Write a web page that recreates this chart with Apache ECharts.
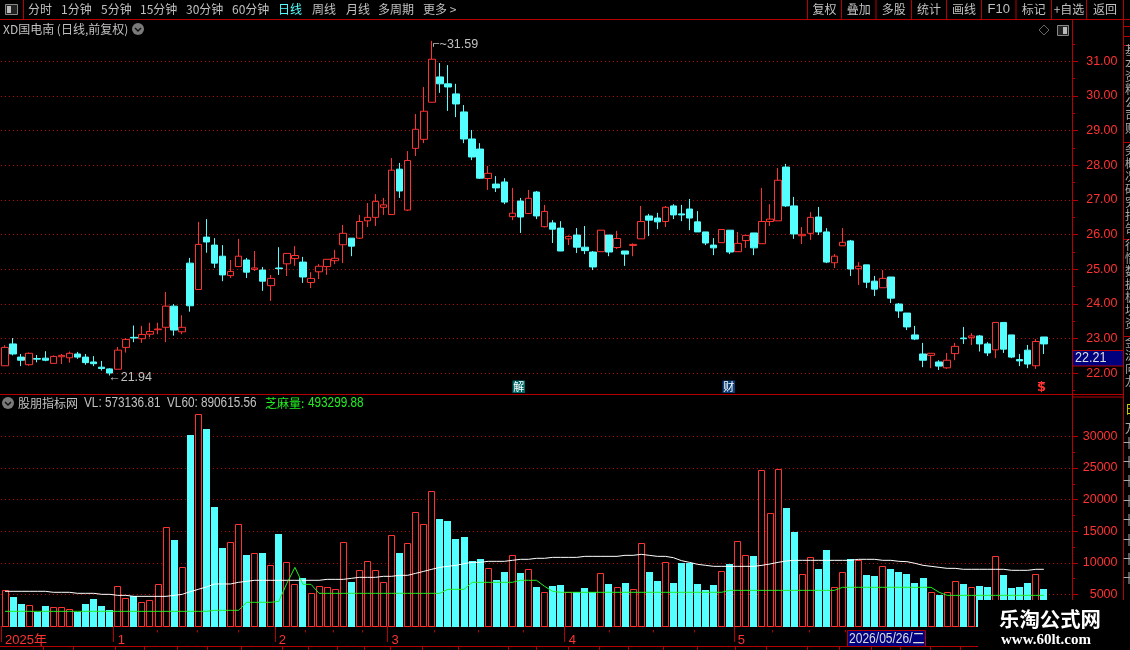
<!DOCTYPE html>
<html><head><meta charset="utf-8">
<style>html,body{margin:0;padding:0;background:#000}#c{width:1130px;height:650px}</style>
<script src="https://cdn.jsdelivr.net/npm/echarts@6/dist/echarts.min.js"></script>
</head><body><div id="c"></div>
<script>
const opens=[22.22,22.85,22.47,22.25,22.43,22.44,22.29,22.48,22.45,22.56,22.47,22.33,22.18,22.13,22.12,22.75,23.04,23.00,23.13,23.26,23.33,23.94,23.20,25.18,24.42,25.93,25.70,25.38,24.82,25.08,25.27,25.00,24.98,24.53,25.04,25.16,25.31,25.21,24.62,24.93,25.08,25.25,25.71,25.90,25.90,26.40,26.50,26.79,26.58,27.89,26.71,28.49,28.75,29.82,30.55,30.35,30.06,29.54,28.76,28.47,27.62,27.46,27.52,26.52,26.97,26.61,27.23,26.23,26.34,26.19,25.88,25.99,25.64,25.50,25.51,25.99,25.63,25.53,25.69,25.88,26.54,26.48,26.38,26.83,26.60,26.74,26.37,26.08,25.70,25.77,26.13,25.51,25.83,26.05,25.74,26.38,26.40,27.95,26.83,25.97,26.04,26.51,26.08,25.19,25.68,25.82,25.02,25.13,24.66,24.47,24.78,24.00,23.74,23.11,22.56,22.52,22.33,22.16,22.57,23.02,23.03,23.08,22.85,22.68,23.47,23.11,22.40,22.67,22.22,23.05];
const closes=[22.75,22.56,22.38,22.58,22.41,22.38,22.49,22.52,22.58,22.47,22.31,22.28,22.14,22.01,22.67,22.98,23.02,23.12,23.21,23.28,23.94,23.25,23.33,23.95,25.72,25.79,25.18,24.84,24.94,25.38,24.92,25.04,24.66,24.74,25.02,25.46,25.40,24.78,24.74,25.09,25.29,25.32,26.04,25.67,26.38,26.50,26.96,26.86,27.86,27.26,28.14,29.04,29.56,31.06,30.35,30.26,29.77,28.76,28.24,27.63,27.77,27.35,26.94,26.62,26.51,27.05,26.54,26.67,26.16,25.53,25.95,25.64,25.54,25.07,26.13,25.50,25.89,25.44,25.72,26.38,26.42,26.37,26.79,26.57,26.57,26.48,26.08,25.76,25.62,26.15,25.50,25.75,25.98,25.62,26.38,26.45,27.57,26.83,26.02,26.01,26.50,26.08,25.21,25.38,25.78,25.01,25.09,24.63,24.43,24.74,24.17,23.80,23.34,22.99,22.38,22.58,22.21,22.38,22.78,23.00,23.08,22.85,22.59,23.47,22.70,22.47,22.36,22.27,22.92,22.85];
const lows=[22.22,22.52,22.21,22.22,22.32,22.35,22.29,22.27,22.31,22.42,22.25,22.21,22.08,21.94,22.12,22.60,22.90,22.88,23.04,23.13,22.90,23.09,23.13,23.78,24.42,25.48,25.04,24.66,24.75,25.08,24.75,24.95,24.38,24.09,24.84,24.81,25.10,24.61,24.46,24.72,24.84,25.15,25.18,25.38,25.88,26.22,26.25,26.57,26.58,27.06,26.68,28.27,28.64,29.82,30.09,29.57,29.39,28.64,28.15,27.61,27.29,27.23,26.88,26.42,26.05,26.61,26.45,26.21,25.76,25.53,25.70,25.47,25.44,24.98,25.51,25.38,25.59,25.10,25.38,25.88,25.96,26.16,26.22,26.45,26.39,26.13,26.08,25.70,25.41,25.77,25.44,25.51,25.62,25.41,25.74,26.25,26.40,26.80,25.88,25.73,25.85,25.99,25.18,25.04,25.68,24.81,24.55,24.46,24.23,24.47,24.03,23.60,23.25,22.96,22.18,22.15,22.10,22.13,22.38,22.85,22.82,22.63,22.50,22.44,22.59,22.44,22.21,22.15,22.13,22.56];
const highs=[22.81,23.02,22.56,22.60,22.53,22.64,22.52,22.56,22.63,22.62,22.56,22.50,22.36,22.15,22.76,23.02,23.38,23.37,23.46,23.46,24.35,24.00,23.68,25.33,26.37,26.45,25.90,25.70,25.27,25.88,25.33,25.53,25.07,24.84,25.64,25.46,25.67,25.36,24.92,25.15,25.29,25.56,26.28,25.90,26.57,26.91,27.17,27.06,28.21,28.07,28.41,29.48,30.26,31.59,30.95,30.89,30.35,29.74,29.02,28.64,27.98,27.69,27.63,27.35,27.06,27.29,27.26,26.86,26.42,26.39,25.98,26.19,26.25,25.53,26.13,25.99,26.11,25.53,25.75,26.83,26.60,26.63,26.83,26.88,26.86,27.03,26.68,26.08,25.90,26.15,26.13,26.08,25.98,26.05,27.35,26.88,27.92,28.04,27.09,26.22,26.65,26.80,26.19,25.44,26.19,25.85,25.21,25.13,24.81,24.98,24.78,24.03,23.74,23.37,22.88,22.58,22.38,22.59,22.88,23.34,23.16,23.11,22.90,23.47,23.47,23.11,22.56,22.82,22.99,23.05];
const volumes=[5640,4590,3480,3270,2270,3160,2950,2950,2640,2270,3480,4270,3160,2530,6280,4380,4690,3750,4060,6590,15610,13610,9280,30220,33490,31170,18830,12340,13240,16090,11230,11500,11550,9600,14560,10070,6590,7600,5170,6280,6120,5800,13240,6960,8810,10230,8810,6910,14350,11550,13080,17980,16090,21310,16930,16610,13770,14080,10280,10600,9120,7280,8540,11180,8390,8970,6170,5330,6330,6490,5330,5330,6010,5330,8330,6650,6120,6800,5800,13080,8540,7120,10070,6800,9970,9970,6650,5700,6490,8650,9810,13400,11180,11080,24630,17830,24790,18670,14870,8180,10860,9020,12030,6120,8490,10550,10390,8070,7910,9440,9020,8540,8230,6800,7600,5330,4910,5330,7070,6650,6120,6330,6170,11020,8070,6010,6170,6800,8180,5850];
const vl60=[5490,5490,5490,5490,5490,5490,5330,5330,5330,5170,5170,5170,5010,5010,4850,4850,4690,4690,4690,4690,4690,4850,5010,5430,5800,6170,6650,6650,6650,6910,7070,7230,7230,7230,7230,7230,7230,7230,7230,7230,7380,7380,7380,7540,7700,7700,7700,7860,7860,8020,8020,8330,8650,8970,9280,9440,9600,9860,10070,10070,10230,10230,10230,10390,10550,10550,10710,10710,10860,10860,10860,10860,11020,11020,11020,11020,11020,11180,11180,11340,11180,11020,11020,10810,10340,10070,9760,9600,9440,9440,9440,9440,9440,9440,9600,9810,10070,10280,10390,10390,10390,10390,10390,10390,10390,10390,10550,10550,10550,10390,10390,10230,10180,9920,9600,9440,9280,9120,9120,8970,8970,8970,8970,8970,8970,8810,8810,8810,8970,8970];
const zhimaliang=[2320,2320,2320,2320,2320,2320,2320,2320,2320,2320,2320,2320,2320,2320,2320,2320,2320,2320,2320,2320,2320,2320,2320,2320,2320,2320,2480,2480,2480,2480,3750,3750,3750,3750,3900,6750,9280,6590,6590,5170,5170,5170,5170,5170,5170,5170,5170,5170,5170,5170,5170,5170,5170,5170,5170,5800,5800,5800,6910,6910,6910,6910,6910,6910,7230,7230,7230,6280,5490,5330,5330,5330,5330,5330,5330,5330,5330,5330,5330,5330,5330,5330,5330,5330,5330,5330,5330,5330,5330,5330,5640,5640,5640,5640,5640,5640,5640,5640,5640,5640,5640,5640,5640,5640,6120,6120,6120,6120,6120,6120,6120,6120,6120,6120,6120,6120,5330,4850,4850,4850,4850,4850,4850,4850,4850,4850,4850,4850,4850,4850];
const monthStarts=[0,14,34,48,70,91];
const monthLabels=['2025年','1','2','3','4','5'];
const priceTicks=[22,23,24,25,26,27,28,29,30,31];
const priceMinorTicks=[21.5,22.5,23.5,24.5,25.5,26.5,27.5,28.5,29.5,30.5,31.5];
const volumeTicks=[5000,10000,15000,20000,25000,30000];
const volumeMinorTicks=[7500,12500,17500,22500,27500];
const periodTabs=['分时','1分钟','5分钟','15分钟','30分钟','60分钟','日线','周线','月线','多周期','更多 >'];
const periodTabX=[28,61,101,140,186,232,278,312,346,378,423];
const toolTabs=['复权','叠加','多股','统计','画线','F10','标记','+自选','返回'];
const toolSepX=[807.5,841.5,876,911.5,946.5,981.5,1016,1051.5,1086.5,1123.5];
const weekTopX=[157,197,238,305,333,362,434,478,523,609,653,694,772,809,845];
const weekBottomX=[43,73,115,144,177,207,241,282,308,337,364,390,422,458,508,536,568,599,628,663,697,735,766,807,839,871,900,930,960];
const sideLines=[26,36,45,142,239,336];
const sideChars='基本资料公司财务概况研究报告行情数据板块资金流向龙虎榜单主力持仓分红融资股东人数经营分析题材要点';

const RED='#ff3232',CYAN='#54ffff',LINE='#b40000',GRAY='#c0c0c0',DOT='#c00000';
const LAT='"Liberation Sans",sans-serif';
const CJK='"Noto Sans CJK SC",sans-serif';
const categories=opens.map((_,i)=>{const k=monthStarts.indexOf(i);return k>=0?monthLabels[k]:String(i);}).concat(['','','']);

const g=[];
const ln=(x1,y1,x2,y2,c)=>g.push({type:'line',silent:true,z:50,shape:{x1,y1,x2,y2},style:{stroke:c||LINE,lineWidth:1}});
const tx=(text,x,y,font,fill,align,z,sx)=>g.push({type:'text',silent:true,z:z||60,x,y,scaleX:sx||1,style:{text,font,fill:fill||GRAY,align:align||'left',verticalAlign:'middle'}});
const rc=(x,y,width,height,fill,stroke,z)=>g.push({type:'rect',silent:true,z:z||55,shape:{x,y,width,height},style:{fill,stroke:stroke||null,lineWidth:1}});

// toolbar
ln(0,19.5,1130,19.5);ln(23.5,0,23.5,19);
rc(5.5,4.5,12,10,'#222','#888');rc(7,6,4,7,'#bbb');
periodTabs.forEach((t,i)=>tx(t,periodTabX[i],9.5,'12px '+CJK,t==='日线'?'#54ffff':GRAY));
toolSepX.forEach(x=>ln(x,0,x,19));
toolTabs.forEach((t,i)=>tx(t,(toolSepX[i]+toolSepX[i+1])/2,9.5,t==='F10'?'13px '+LAT:'12px '+CJK,GRAY,'center'));
// title rows
tx('XD国电南 (日线,前复权)',3,29,'12px '+CJK);
const chev=(x,y)=>{g.push({type:'circle',silent:true,z:55,shape:{cx:x,cy:y,r:6},style:{fill:'#7a7a7a'}});
  g.push({type:'polyline',silent:true,z:56,shape:{points:[[x-3,y-1],[x,y+2],[x+3,y-1]]},style:{stroke:'#111',fill:null,lineWidth:1.5}});};
chev(138,29);chev(8,403);
g.push({type:'polygon',silent:true,z:55,shape:{points:[[1044,25],[1049,30],[1044,35],[1039,30]]},style:{stroke:'#666',fill:null,lineWidth:1}});
rc(1057.5,25.5,11,10,'#222','#888');rc(1063,27,4,7,'#bbb');
// frame
ln(1072.5,20,1072.5,600);ln(1123.5,20,1123.5,600);
ln(0,394.5,1124,394.5);ln(1072,397,1124,397);
rc(1072.5,350.5,51,15.5,'#00007f',LINE);
tx('22.21',1075,358.5,'14px '+LAT,'#dcdcdc','left',60,0.9);
// info-mine markers
rc(512.5,380.5,12.5,12.5,'#006a6a');tx('解',518.7,387,'11px '+CJK,'#fff','center');
rc(722.5,380.5,12.5,12.5,'#0a3c78');tx('财',728.7,387,'11px '+CJK,'#fff','center');
tx('$',1041.5,388,'bold 13px "DejaVu Sans"',RED,'center');ln(1038,382.5,1045,382.5,RED);
// indicator text
tx('股朋指标网',18,403,'12px '+CJK);
tx('VL: 573136.81',84,403,'14px '+LAT,GRAY,'left',60,0.84);
tx('VL60: 890615.56',167,403,'14px '+LAT,GRAY,'left',60,0.84);
tx('芝麻量:',265,403,'12px '+CJK,'#22ee22');
tx('493299.88',308,403,'14px '+LAT,'#22ee22','left',60,0.84);
// date band
ln(0,646.5,978,646.5);
weekTopX.forEach(x=>ln(x+.5,630,x+.5,632.5));
weekBottomX.forEach(x=>ln(x+.5,647,x+.5,650));
rc(847.5,630.5,78,16,'#00007f',LINE);
tx('2026/05/26/二',849,639,'14px '+LAT+',"Noto Sans CJK SC"','#dcdcdc','left',60,0.86);
// side strip
sideLines.forEach(y=>ln(1124,y+.5,1130,y+.5));
let sc=0;
[[50,137],[150,234],[245,332],[342,390]].forEach(([a,b])=>{for(let y=a;y<=b;y+=13)tx(sideChars[sc++%sideChars.length],1125,y,'12px '+CJK,'#a8a8a8');});
tx('日',1125,409,'12px '+CJK,'#d8d800');
tx('万',1125,428,'12px '+CJK,'#a8a8a8');
for(let y=443;y<=598;y+=19.4)tx('十',1123,y,'12px '+CJK,'#a8a8a8');
// watermark
rc(978,600,152,50,'#000',null,90);
tx('乐淘公式网',999,619,'bold 20.4px '+CJK,'#fff','left',91);
tx('www.60lt.com',1046,640,'bold 15px "Liberation Serif",serif','#fff','center',91);

const isUp=i=>closes[i]>=opens[i];
const option={
  backgroundColor:'#000',animation:false,graphic:{elements:g},
  grid:[{left:1,width:1071,top:20,height:374},{left:1,width:1071,top:396,height:230}],
  xAxis:[
    {type:'category',gridIndex:0,data:categories,show:false},
    {type:'category',gridIndex:1,data:categories,offset:4,
     axisLine:{show:true,lineStyle:{color:LINE,width:1}},
     axisTick:{show:true,length:16,interval:i=>monthStarts.includes(i),lineStyle:{color:LINE}},
     axisLabel:{show:true,interval:i=>monthStarts.includes(i),align:'left',verticalAlign:'middle',margin:10,color:RED,fontSize:13,fontFamily:LAT+',"Noto Sans CJK SC"'},
     splitLine:{show:false}}
  ],
  yAxis:[
    {type:'value',gridIndex:0,position:'right',min:21.406,max:32.191,scale:true,
     axisLine:{show:false},
     axisTick:{show:true,length:6,lineStyle:{color:LINE},customValues:priceTicks},
     axisLabel:{color:RED,align:'right',margin:45.5,fontSize:12.5,fontFamily:LAT,padding:[2,0,0,0],customValues:priceTicks,formatter:v=>v.toFixed(2)},
     splitLine:{show:true,lineStyle:{color:DOT,type:[1,3],width:1}}},
    {type:'value',gridIndex:0,position:'right',min:21.406,max:32.191,scale:true,
     axisLine:{show:false},axisLabel:{show:false,customValues:priceMinorTicks},
     axisTick:{show:true,length:3,lineStyle:{color:LINE},customValues:priceMinorTicks},splitLine:{show:false}},
    {type:'value',gridIndex:1,position:'right',min:0,max:36390,
     axisLine:{show:false},
     axisTick:{show:true,length:6,lineStyle:{color:LINE},customValues:volumeTicks},
     axisLabel:{color:RED,align:'right',margin:45.5,fontSize:12.5,fontFamily:LAT,padding:[2,0,0,0],customValues:volumeTicks,formatter:v=>String(v)},
     splitLine:{show:true,lineStyle:{color:DOT,type:[1,3],width:1}}},
    {type:'value',gridIndex:1,position:'right',min:0,max:36390,
     axisLine:{show:false},axisLabel:{show:false,customValues:volumeMinorTicks},
     axisTick:{show:true,length:3,lineStyle:{color:LINE},customValues:volumeMinorTicks},splitLine:{show:false}}
  ],
  series:[
    {type:'candlestick',name:'XD国电南',xAxisIndex:0,yAxisIndex:0,barWidth:7,
     data:opens.map((o,i)=>[o,closes[i],lows[i],highs[i]]),
     itemStyle:{color:'#000',color0:CYAN,borderColor:RED,borderColor0:CYAN,borderWidth:1},
     markPoint:{silent:true,symbol:'circle',symbolSize:1,itemStyle:{color:'rgba(0,0,0,0)'},
       data:[
        {coord:[53,31.59],label:{show:true,position:'right',distance:0,offset:[0,4],formatter:'⌐~31.59',color:GRAY,fontSize:12.5,fontFamily:LAT}},
        {coord:[13,21.94],label:{show:true,position:'right',distance:0,offset:[-2,2],formatter:'←21.94',color:GRAY,fontSize:12.5,fontFamily:LAT}}
       ]}},
    {type:'custom',name:'VL',xAxisIndex:1,yAxisIndex:2,
     data:volumes.map((v,i)=>[i,v]),encode:{x:0,y:1},clip:false,
     renderItem:(params,api)=>{
       const i=api.value(0),top=api.coord([i,api.value(1)]),zero=api.coord([i,0]);
       const l=Math.round(top[0]-3.5),t=Math.round(top[1]),b=Math.round(zero[1]);
       return isUp(i)
        ?{type:'rect',shape:{x:l+.5,y:t+.5,width:6,height:b-t},style:{fill:'#000',stroke:RED,lineWidth:1}}
        :{type:'rect',shape:{x:l,y:t,width:7,height:b-t+1},style:{fill:CYAN}};
     }},
    {type:'line',name:'VL60',xAxisIndex:1,yAxisIndex:2,data:vl60,showSymbol:false,symbol:'none',lineStyle:{color:'#fff',width:1}},
    {type:'line',name:'芝麻量',xAxisIndex:1,yAxisIndex:2,data:zhimaliang,showSymbol:false,symbol:'none',lineStyle:{color:'#22ee22',width:1}}
  ]
};
const chart=echarts.init(document.getElementById('c'),null,{renderer:'canvas',width:1130,height:650});
chart.setOption(option);
</script></body></html>
